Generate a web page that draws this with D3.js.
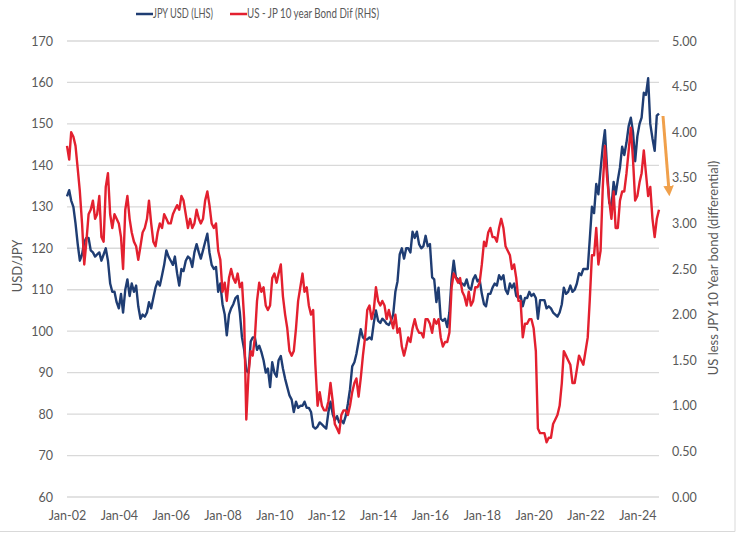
<!DOCTYPE html>
<html>
<head>
<meta charset="utf-8">
<script src="https://cdn.jsdelivr.net/npm/d3@7"></script>
<style>
  body { margin: 0; background: #fff; }
  text { font-family: Lato, "Open Sans", sans-serif; fill: #595959; }
</style>
</head>
<body>
<div id="chart"></div>
<script>
// monthly points, Jan-02 .. Nov-24
const startMonth = new Date(2002, 0, 1);
const endMonth = new Date(2024, 10, 1);

// USD/JPY (left axis)
const usdJpy = [
  132.5, 134.0, 131.5, 130.0, 126.0, 121.0, 117.0, 118.5, 121.5, 122.5, 122.5, 119.5,
  119.0, 118.0, 118.5, 119.0, 117.0, 118.5, 120.0, 117.0, 111.5, 109.5, 109.5, 107.0,
  105.5, 109.0, 104.5, 110.0, 112.5, 108.5, 111.5, 109.5, 111.0, 106.0, 103.0, 104.0,
  103.5, 104.5, 107.0, 105.5, 108.0, 110.5, 112.0, 111.0, 113.5, 116.0, 119.5, 118.0,
  117.0, 116.0, 118.0, 114.0, 111.0, 115.0, 114.5, 117.0, 118.0, 117.5, 115.5, 119.0,
  121.0, 119.0, 117.5, 119.5, 121.5, 123.5, 119.0, 116.0, 115.0, 115.5, 109.5, 111.5,
  106.5, 104.0, 99.0, 104.0, 105.5, 106.5, 108.0, 108.5, 104.5, 98.5, 95.5, 90.5,
  90.0, 97.5, 98.5, 98.5, 95.5, 96.5, 95.0, 93.0, 90.0, 91.0, 86.5, 92.5,
  90.0, 89.0, 93.0, 94.0, 91.0, 88.5, 86.5, 84.5, 83.5, 80.5, 83.0, 81.5,
  82.0, 82.0, 83.0, 81.5, 81.5, 80.5, 77.0, 76.5, 77.0, 78.0, 77.5, 77.0,
  76.5, 80.5, 83.0, 80.0, 78.5, 79.5, 78.0, 78.5, 77.8, 79.5, 82.5, 86.0,
  91.5, 92.5, 94.5, 97.5, 100.5, 98.5, 98.0, 98.0, 98.5, 98.0, 102.0, 105.0,
  102.5, 102.0, 103.0, 102.5, 101.8, 101.5, 102.5, 104.0, 109.5, 112.0, 118.5, 120.0,
  117.5, 120.0, 120.0, 119.0, 124.0, 122.5, 124.0, 121.0, 120.0, 120.5, 123.0, 120.5,
  121.0, 113.0, 112.5, 107.0, 110.5, 103.0, 102.5, 103.0, 101.0, 104.5, 112.5, 117.0,
  113.0, 112.5, 111.5, 111.5, 111.0, 112.5, 110.5, 110.0, 112.5, 113.5, 112.0, 112.5,
  109.0, 106.5, 106.0, 109.0, 109.0, 110.5, 111.5, 111.0, 113.5, 112.5, 113.5, 110.0,
  109.0, 111.5, 110.5, 111.5, 108.5, 108.0, 108.5, 106.0, 108.0, 108.0, 109.5, 108.5,
  109.0, 108.0, 103.0, 107.5, 107.5, 107.5, 105.5, 106.0, 105.5, 104.5, 104.0, 103.5,
  104.5, 106.5, 110.5, 109.0, 109.5, 111.0, 109.5, 110.0, 111.5, 114.0, 113.5, 115.0,
  115.0, 115.0, 122.0, 130.0, 128.5, 135.5, 133.0, 139.0, 144.5, 148.5, 139.0, 131.0,
  130.0, 136.0, 133.0, 136.5, 139.5, 144.5, 142.5, 145.5, 149.5, 151.5, 148.0, 141.0,
  147.0, 150.0, 151.5, 157.5, 157.0, 161.0, 150.0, 146.5, 143.5, 152.0, 152.5
];

// US 10y less JGB 10y (right axis)
const bondDiff = [
  3.85, 3.70, 4.00, 3.95, 3.85, 3.60, 3.35, 3.00, 2.55, 2.80, 3.10, 3.15,
  3.25, 3.05, 3.10, 3.30, 2.85, 2.80, 3.40, 3.55, 3.10, 2.95, 3.10, 3.05,
  3.00, 2.85, 2.50, 3.15, 3.30, 3.05, 2.90, 2.80, 2.75, 2.60, 2.75, 2.90,
  2.95, 3.05, 3.25, 3.00, 2.80, 2.75, 2.90, 3.00, 2.95, 3.10, 3.05, 3.00,
  3.00, 3.10, 3.15, 3.20, 3.15, 3.30, 3.25, 3.10, 2.95, 3.05, 2.95, 3.00,
  3.15, 3.05, 3.00, 3.05, 3.25, 3.35, 3.20, 3.00, 2.95, 3.00, 2.70, 2.60,
  2.25, 2.35, 2.15, 2.40, 2.50, 2.40, 2.35, 2.45, 2.30, 2.35, 1.95, 0.85,
  1.35, 1.60, 1.55, 1.75, 2.15, 2.35, 2.25, 2.30, 2.10, 2.05, 2.10, 2.40,
  2.45, 2.35, 2.45, 2.55, 2.20, 2.00, 1.85, 1.60, 1.55, 1.60, 1.85, 2.15,
  2.30, 2.45, 2.25, 2.30, 2.10, 2.00, 2.05, 1.45, 1.00, 1.15, 1.00, 0.95,
  0.95, 1.05, 1.25, 1.05, 0.80, 0.75, 0.70, 0.90, 0.95, 0.95, 0.90, 1.00,
  1.15, 1.25, 1.30, 1.10, 1.30, 1.55, 1.75, 2.05, 2.10, 1.95, 2.05, 2.30,
  2.15, 2.10, 2.15, 2.10, 1.95, 2.05, 1.95, 1.85, 2.00, 1.80, 1.85, 1.65,
  1.55, 1.65, 1.75, 1.70, 1.85, 1.95, 1.85, 1.80, 1.80, 1.75, 1.95, 1.95,
  1.90, 1.80, 1.95, 1.90, 1.95, 1.75, 1.65, 1.70, 1.70, 1.80, 2.30, 2.45,
  2.40, 2.35, 2.40, 2.25, 2.20, 2.10, 2.25, 2.10, 2.15, 2.30, 2.30, 2.35,
  2.55, 2.80, 2.75, 2.90, 2.95, 2.85, 2.85, 2.80, 2.95, 3.05, 2.95, 2.75,
  2.70, 2.65, 2.50, 2.55, 2.40, 2.15, 2.15, 1.75, 1.90, 1.90, 1.95, 1.95,
  1.85, 1.60, 0.75, 0.70, 0.70, 0.70, 0.60, 0.65, 0.65, 0.80, 0.85, 0.90,
  1.00, 1.25, 1.60, 1.55, 1.50, 1.45, 1.25, 1.25, 1.40, 1.55, 1.50, 1.45,
  1.60, 1.75, 2.15, 2.65, 2.65, 2.95, 2.55, 2.70, 3.40, 3.85, 3.50, 3.25,
  3.05, 3.35, 2.95, 2.95, 3.25, 3.35, 3.35, 3.55, 3.80, 4.05, 3.70, 3.25,
  3.30, 3.45, 3.55, 3.80, 3.55, 3.30, 3.40, 3.05, 2.85, 3.05, 3.15
];

const leftTicks = d3.range(60, 171, 10);
const rightTicks = d3.range(0, 5.01, 0.5);
const seriesNames = ["JPY USD (LHS)", "US - JP 10 year Bond Dif (RHS)"];
const seriesColors = ["#1f3d73", "#e3202f"];

const months = d3.timeMonth.range(startMonth, d3.timeMonth.offset(endMonth, 1));

const svg = d3.select("#chart").append("svg")
    .attr("width", 745)
    .attr("height", 533);

const x = d3.scaleTime()
    .domain([startMonth, endMonth])
    .range([67, 659]);
const yL = d3.scaleLinear().domain([60, 170]).range([497, 41]);
const yR = d3.scaleLinear().domain([0, 5]).range([497, 41]);

// chart frame
svg.append("path")
    .attr("d", "M735,0 V531.5 H0")
    .attr("fill", "none")
    .attr("stroke", "#d9d9d9");

// gridlines
svg.append("g").selectAll("line")
    .data(leftTicks)
    .join("line")
    .attr("x1", 67).attr("x2", 659)
    .attr("y1", d => yL(d)).attr("y2", d => yL(d))
    .attr("stroke", "#d9d9d9")
    .attr("stroke-width", 1.3);

// axes
const gl = svg.append("g")
    .attr("transform", "translate(67,0)")
    .call(d3.axisLeft(yL).tickValues(leftTicks).tickSize(0).tickPadding(14));
const gr = svg.append("g")
    .attr("transform", "translate(659,0)")
    .call(d3.axisRight(yR).tickValues(rightTicks).tickFormat(d3.format(".2f")).tickSize(0).tickPadding(13));
const gb = svg.append("g")
    .attr("transform", "translate(0,497)")
    .call(d3.axisBottom(x).ticks(d3.timeYear.every(2)).tickFormat(d3.timeFormat("%b-%y")).tickSize(0).tickPadding(14));
[gl, gr, gb].forEach(g => {
  g.select(".domain").remove();
  g.selectAll("text").style("font-size", "12.5px").attr("fill", "#595959");
});

// axis titles
svg.append("text")
    .attr("transform", "translate(22,266) rotate(-90)")
    .attr("text-anchor", "middle")
    .style("font-size", "13px")
    .text("USD/JPY");
svg.append("text")
    .attr("transform", "translate(718,268) rotate(-90)")
    .attr("text-anchor", "middle")
    .style("font-size", "13px")
    .text("US less JPY 10 Year bond (differential)");

// lines
const lineL = d3.line().x((d, i) => x(months[i])).y(d => yL(d));
const lineR = d3.line().x((d, i) => x(months[i])).y(d => yR(d));

svg.append("path")
    .datum(usdJpy)
    .attr("d", lineL)
    .attr("fill", "none")
    .attr("stroke", seriesColors[0])
    .attr("stroke-width", 2.4)
    .attr("stroke-linejoin", "round");
svg.append("path")
    .datum(bondDiff)
    .attr("d", lineR)
    .attr("fill", "none")
    .attr("stroke", seriesColors[1])
    .attr("stroke-width", 2.4)
    .attr("stroke-linejoin", "round");

// legend
const legendX = [136, 230];
const legendW = [60, 132];
const lg = svg.append("g");
seriesNames.forEach((name, i) => {
  lg.append("line")
      .attr("x1", legendX[i]).attr("x2", legendX[i] + 17)
      .attr("y1", 14).attr("y2", 14)
      .attr("stroke", seriesColors[i])
      .attr("stroke-width", 2.5);
  lg.append("text")
      .attr("x", legendX[i] + 17)
      .attr("y", 18)
      .attr("textLength", legendW[i])
      .attr("lengthAdjust", "spacingAndGlyphs")
      .style("font-size", "12.5px")
      .text(name);
});

// annotation arrow
const defs = svg.append("defs");
defs.append("marker")
    .attr("id", "arrowhead")
    .attr("viewBox", "0 0 10 10")
    .attr("refX", 5).attr("refY", 5)
    .attr("markerWidth", 3.5).attr("markerHeight", 3.5)
    .attr("orient", "auto")
  .append("path")
    .attr("d", "M0,0 L10,5 L0,10 Z")
    .attr("fill", "#f0a04b");
svg.append("line")
    .attr("x1", 663).attr("y1", 116)
    .attr("x2", 669).attr("y2", 191)
    .attr("stroke", "#f0a04b")
    .attr("stroke-width", 3)
    .attr("marker-end", "url(#arrowhead)");
</script>
</body>
</html>
